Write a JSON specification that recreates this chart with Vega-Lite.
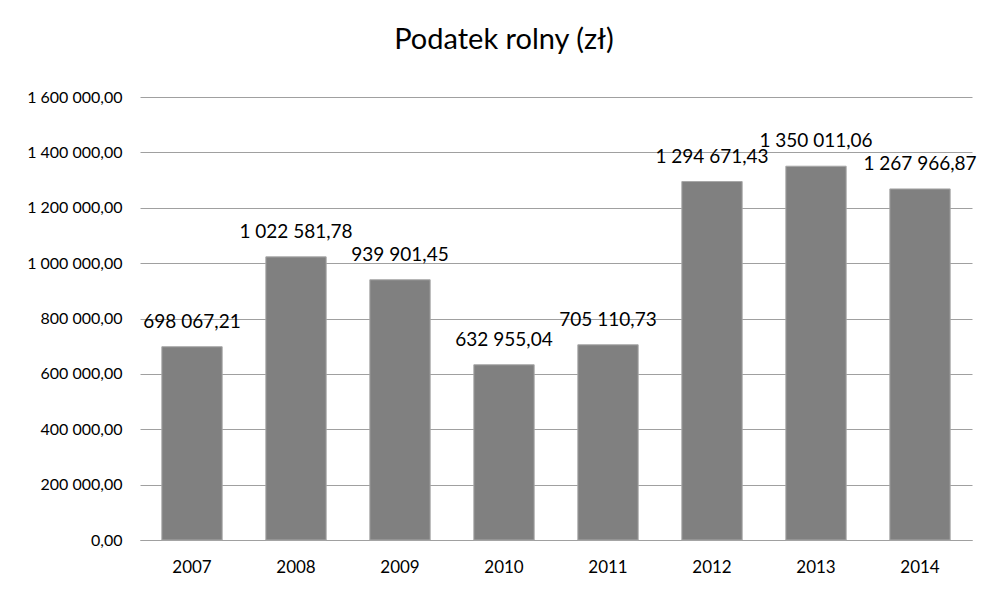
{
  "$schema": "https://vega.github.io/schema/vega-lite/v6.json",
  "width": 832,
  "height": 443,
  "autosize": {"type": "none"},
  "padding": {"left": 140, "top": 97, "right": 20, "bottom": 54},
  "background": "white",
  "config": {
    "locale": {"number": {"decimal": ",", "thousands": " ", "grouping": [3], "currency": ["", ""]}},
    "font": "Lato",
    "view": {"stroke": null},
    "axis": {"labelFont": "Lato", "labelColor": "#000000"}
  },
  "title": {
    "text": "Podatek rolny (zł)",
    "fontSize": 29,
    "fontWeight": "normal",
    "font": "Lato",
    "color": "#000000",
    "anchor": "middle",
    "dx": -52,
    "offset": 34
  },
  "data": {
    "values": [
      {"year": "2007", "value": 698067.21},
      {"year": "2008", "value": 1022581.78},
      {"year": "2009", "value": 939901.45},
      {"year": "2010", "value": 632955.04},
      {"year": "2011", "value": 705110.73},
      {"year": "2012", "value": 1294671.43},
      {"year": "2013", "value": 1350011.06},
      {"year": "2014", "value": 1267966.87}
    ]
  },
  "encoding": {
    "x": {
      "field": "year",
      "type": "nominal",
      "scale": {"paddingInner": 0.42, "paddingOuter": 0.21},
      "axis": {
        "title": null,
        "labelAngle": 0,
        "labelFontSize": 17,
        "labelPadding": 19,
        "ticks": false,
        "domain": true,
        "domainColor": "#a0a0a0",
        "domainWidth": 1
      }
    },
    "y": {
      "field": "value",
      "type": "quantitative",
      "scale": {"domain": [0, 1600000]},
      "axis": {
        "title": null,
        "values": [0, 200000, 400000, 600000, 800000, 1000000, 1200000, 1400000, 1600000],
        "format": ",.2f",
        "labelFontSize": 16,
        "labelPadding": 18,
        "ticks": false,
        "domain": false,
        "grid": true,
        "gridColor": "#a0a0a0",
        "gridWidth": 1
      }
    }
  },
  "layer": [
    {
      "mark": {"type": "bar", "color": "#808080", "stroke": "#a8a8a8", "strokeWidth": 1}
    },
    {
      "mark": {"type": "text", "baseline": "middle", "dy": -25, "fontSize": 19, "color": "#000000"},
      "encoding": {
        "text": {"field": "value", "type": "quantitative", "format": ",.2f"}
      }
    }
  ]
}
